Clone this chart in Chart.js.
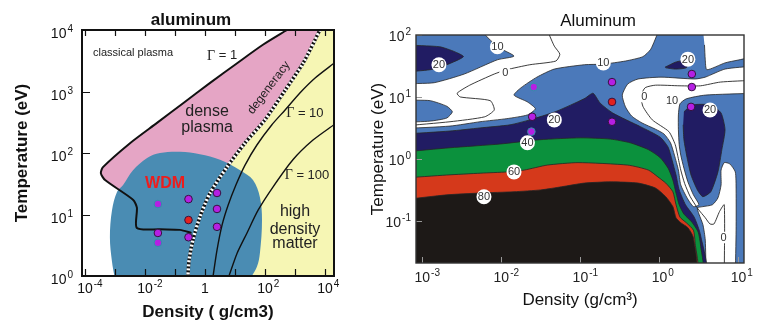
<!DOCTYPE html>
<html lang="en">
<head>
<meta charset="utf-8">
<title>Aluminum WDM</title>
<script src="https://cdn.jsdelivr.net/npm/chart.js@4.4.1/dist/chart.umd.min.js"></script>
<style>
  html, body { margin: 0; padding: 0; background: #fff; }
  #quadro { position: relative; width: 759px; height: 324px; overflow: hidden; }
  #quadro canvas { position: absolute; left: 0; top: 0; }
</style>
</head>
<body>
<div id="quadro">
  <canvas id="chartFases" width="759" height="324"></canvas>
  <canvas id="chartContorno" width="759" height="324"></canvas>
</div>
<script>
// ====== DADOS: painel esquerdo (x = log10 densidade g/cm3, y = log10 T eV) ======
const gamma1 = [[2.73,4.0],[1.93,3.76],[1.07,3.46],[0.17,3.14],[-0.73,2.81],[-1.6,2.49],[-2.5,2.16],
  [-3.4,1.77],[-3.47,1.67],[-3.33,1.56],[-2.4,1.24],[-2.27,1.11],[-2.27,0.78],[-1.5,0.76],[-0.83,0.75],[-0.45,0.70]];
const degeneracy = [[3.83,4.0],[3.27,3.46],[2.67,3.02],[2.0,2.54],[1.33,2.16],[0.73,1.77],[0.17,1.35],
  [-0.17,0.96],[-0.4,0.59],[-0.53,0.26],[-0.57,0]];
const gamma10 = [[4.3,3.46],[3.67,3.22],[3.17,2.98],[2.67,2.70],[2.23,2.46],[1.73,2.13],[1.33,1.80],
  [1.03,1.48],[0.77,1.15],[0.57,0.83],[0.4,0.42],[0.27,0]];
const gamma100 = [[4.3,2.46],[3.6,2.21],[2.93,1.89],[2.27,1.45],[1.77,1.07],[1.4,0.70],[1.07,0.37],[0.8,0]];
const wdmBlob = [[-3.0,-0.05],[-3.1,0.23],[-3.17,0.63],[-3.1,1.07],[-2.93,1.37],[-2.73,1.48],[-2.4,1.72],
  [-1.93,1.92],[-1.5,2.0],[-0.83,2.02],[-0.17,1.98],[0.5,1.89],[1.17,1.72],[1.6,1.56],[1.83,1.28],
  [1.9,0.91],[1.83,0.37],[1.73,0.15],[1.5,-0.05]];
const faseX = [-1.57, -0.55, 0.40, 0.40, 0.40, -1.57, -0.55, -1.57, -0.55];
const faseY = [1.17, 1.25, 1.35, 1.09, 0.80, 0.70, 0.63, 0.54, 0.91];
const faseTipo = ['gas', 'pt', 'pt', 'pt', 'pt', 'pt', 'pt', 'gas', 'ref'];
const faseNomes = ['classical plasma', 'Γ = 1', 'dense', 'plasma', 'degeneracy', 'Γ = 10', 'Γ = 100',
  'high', 'density', 'matter', 'WDM'];
const faseNomesEm = [[-2.4,3.63],[0.57,3.58],[0.07,2.67],[0.07,2.41],[2.13,3.06],[3.33,2.65],[3.4,1.64],
  [3.0,1.04],[3.0,0.76],[3.0,0.52],[-1.33,1.51]];

// ====== DADOS: painel direito, contornos (x = log10 densidade, y = log10 T) ======
const nivel10Base = [[-3.3,-1.9],[1.2,-1.9],[1.2,2.1],[-3.3,2.1]];
const brancoMeio = [[-2.28,2.1],[-2.05,1.81],[-1.84,1.66],[-2.05,1.60],[-2.47,1.37],[-2.85,1.23],[-3.25,1.19],
  [-3.25,0.97],[-2.90,0.94],[-2.69,0.85],[-2.62,0.76],[-2.69,0.66],[-2.90,0.61],[-3.25,0.58],
  [-3.25,0.50],[-2.65,0.53],[-2.27,0.60],[-1.93,0.65],[-1.67,0.71],[-1.57,0.81],[-1.67,0.92],
  [-1.84,1.03],[-1.75,1.15],[-1.55,1.32],[-1.33,1.45],[-0.95,1.52],[-0.71,1.53],[-0.43,1.58],
  [-0.21,1.65],[-0.11,1.77],[0.0,2.1]];
const brancoTopoDir = [[0.55,2.1],[1.2,2.1],[1.2,1.68],[0.83,1.55],[0.60,1.44],[0.58,1.60],[0.57,1.84]];
const brancoLingua = [[1.2,1.5],[0.83,1.45],[0.58,1.32],[0.45,1.29],[0.02,1.32],[-0.27,1.29],[-0.40,1.21],
  [-0.47,1.03],[-0.43,0.84],[-0.35,0.69],[-0.22,0.58],[-0.05,0.48],[0.06,0.40],[0.14,0.26],[0.19,0.06],
  [0.24,-0.18],[0.27,-0.42],[0.35,-0.63],[0.43,-0.77],[0.50,-0.74],[0.43,-0.58],[0.36,-0.37],[0.31,-0.15],
  [0.27,0.06],[0.25,0.23],[0.24,0.47],[0.24,0.71],[0.26,0.89],[0.34,0.97],[0.58,1.03],[1.2,1.06]];
const brancoBaixoDir = [[0.59,-1.9],[0.58,-1.31],[0.55,-1.06],[0.50,-0.89],[0.48,-0.79],[0.55,-0.77],
  [0.67,-0.74],[0.74,-0.63],[0.78,-0.42],[0.78,-0.18],[0.82,-0.06],[0.89,-0.08],[0.96,-0.21],[0.97,-0.5],
  [0.97,-1.15],[0.96,-1.9]];
const nivel20TopoEsq = [[-3.25,1.84],[-2.78,1.81],[-2.59,1.73],[-2.48,1.65],[-2.69,1.52],[-2.90,1.44],[-3.25,1.40]];
const nivel20TopoDir = [[0.07,1.48],[0.20,1.56],[0.27,1.58],[0.36,1.55],[0.34,1.47],[0.20,1.45],[0.08,1.47]];
const nivel20Dir = [[0.31,0.76],[0.41,0.87],[0.65,0.87],[0.78,0.74],[0.83,0.47],[0.79,0.15],[0.74,-0.21],
  [0.65,-0.53],[0.55,-0.61],[0.48,-0.5],[0.40,-0.26],[0.35,0.02],[0.31,0.31],[0.30,0.55]];
const nivel20 = [[-3.25,0.40],[-2.65,0.45],[-2.27,0.50],[-1.89,0.55],[-1.64,0.63],[-1.32,0.76],[-1.07,0.90],
  [-0.94,0.98],[-0.84,1.06],[-0.75,0.90],[-0.59,0.74],[-0.24,0.52],[0.01,0.35],[0.11,0.19],[0.16,-0.02],
  [0.21,-0.26],[0.25,-0.5],[0.33,-0.74],[0.44,-0.94],[0.52,-1.23],[0.57,-1.9],[-3.25,-1.9]];
const nivel40 = [[-3.25,0.11],[-2.65,0.18],[-2.02,0.24],[-1.51,0.31],[-1.0,0.34],[-0.62,0.32],[-0.37,0.26],
  [-0.14,0.15],[0.01,0.02],[0.11,-0.15],[0.17,-0.34],[0.21,-0.55],[0.25,-0.74],[0.31,-0.89],[0.41,-1.02],
  [0.49,-1.18],[0.52,-1.39],[0.53,-1.9],[-3.25,-1.9]];
const nivel60 = [[-3.25,-0.31],[-2.69,-0.26],[-2.26,-0.23],[-1.93,-0.21],[-1.71,-0.18],[-1.42,-0.10],
  [-1.03,-0.06],[-0.40,-0.10],[-0.14,-0.18],[-0.02,-0.29],[0.08,-0.39],[0.17,-0.53],[0.21,-0.74],
  [0.26,-0.94],[0.34,-1.03],[0.43,-1.15],[0.45,-1.34],[0.46,-1.9],[-3.25,-1.9]];
const nivel80 = [[-3.25,-0.66],[-2.69,-0.58],[-2.26,-0.55],[-1.84,-0.53],[-1.50,-0.5],[-1.24,-0.45],
  [-0.95,-0.39],[-0.61,-0.37],[-0.27,-0.39],[-0.05,-0.47],[0.08,-0.61],[0.17,-0.77],[0.21,-0.95],
  [0.27,-1.03],[0.36,-1.11],[0.43,-1.27],[0.44,-1.9],[-3.25,-1.9]];
const zeroA = [[-1.41,2.05],[-1.33,1.82],[-1.26,1.69],[-1.31,1.58],[-1.64,1.52],[-1.93,1.44],[-2.09,1.37],
  [-2.40,1.19],[-2.56,1.06],[-2.52,1.0],[-2.14,0.94],[-2.09,0.79],[-2.21,0.68],[-2.65,0.60],[-3.25,0.53]];
const zeroB = [[1.2,1.27],[0.77,1.24],[0.52,1.18],[0.26,1.18],[-0.05,1.19],[-0.18,1.15],[-0.23,1.03],
  [-0.21,0.85],[-0.09,0.63],[0.12,0.44],[0.20,0.23],[0.23,0.06],[0.27,-0.18],[0.32,-0.40],[0.39,-0.61],
  [0.49,-0.81],[0.58,-0.95],[0.64,-1.05],[0.69,-1.05],[0.76,-0.85],[0.82,-0.74],[0.82,-1.9]];
const contX = [-1.59, -1.61, -1.62, -0.60, -0.60, 0.41, 0.41, 0.40, -0.60];
const contY = [1.16, 0.68, 0.44, 1.24, 0.60, 1.37, 1.16, 0.84, 0.92];
const contTipo = ['gas', 'pt', 'gas', 'pt', 'pt', 'pt', 'pt', 'pt', 'ref'];
const nivelTexto = ['10', '20', '0', '10', '20', '0', '10', '20', '20', '40', '60', '80', '0'];
const nivelEm = [[-2.05,1.81],[-2.79,1.52],[-1.95,1.40],[-0.71,1.55],[0.36,1.61],[-0.19,1.0],[0.16,0.94],
  [0.64,0.79],[-1.33,0.63],[-1.67,0.26],[-1.84,-0.21],[-2.22,-0.61],[0.81,-1.27]];

// ====== HELPERS ======
const FONT = '"Liberation Sans", Arial, Helvetica, sans-serif';
const SERIF = '"Liberation Serif", "Times New Roman", serif';
Chart.defaults.font.family = FONT;
Chart.defaults.color = '#111';

const pts = (arr) => arr.map(([x, y]) => ({ x, y }));

function area(arr, color, extra) {
  return Object.assign({
    data: pts(arr), backgroundColor: color, borderColor: color, borderWidth: 0,
    fill: 'shape', pointRadius: 0, tension: 0, clip: 0
  }, extra || {});
}

function curve(arr, color, width, extra) {
  return Object.assign({
    data: pts(arr), borderColor: color, borderWidth: width, backgroundColor: 'transparent',
    fill: false, pointRadius: 0, tension: 0.25
  }, extra || {});
}

function markers(xs, ys, kinds) {
  return {
    data: xs.map((x, i) => ({ x, y: ys[i] })), showLine: false, fill: false,
    pointRadius: 3.8, pointBorderWidth: 1,
    pointBackgroundColor: kinds.map((k) => (k === 'ref' ? '#e3211d' : '#b51fe3')),
    pointBorderColor: kinds.map((k) => (k === 'gas' ? '#2f93a8' : '#35123f'))
  };
}

// primeiro da lista fica embaixo
function stack(list) {
  return list.map((d, i) => Object.assign(d, { order: list.length - i }));
}

function drawPow(ctx, e, x, y, align, st, plainOne) {
  const n = Math.round(e);
  ctx.textAlign = 'left';
  ctx.textBaseline = 'alphabetic';
  ctx.font = st.base;
  if (plainOne && n === 0) {
    const w = ctx.measureText('1').width;
    ctx.fillText('1', align === 'right' ? x - w : x - w / 2, y);
    return;
  }
  const wb = ctx.measureText('10').width;
  const txt = String(n);
  ctx.font = st.exp;
  const we = ctx.measureText(txt).width;
  const x0 = align === 'right' ? x - wb - we - 1 : x - wb / 2;
  ctx.font = st.base;
  ctx.fillText('10', x0, y);
  ctx.font = st.exp;
  ctx.fillText(txt, x0 + wb + 1, y - st.rise);
}

function moldura(st, extra) {
  return {
    id: 'moldura',
    afterDatasetsDraw(chart) {
      const { ctx, chartArea: a, scales: { x, y } } = chart;
      ctx.save();
      ctx.strokeStyle = st.tickColor;
      ctx.lineWidth = st.tickWidth;
      ctx.beginPath();
      x.ticks.forEach((t) => {
        const px = Math.round(x.getPixelForValue(t.value)) + 0.5;
        ctx.moveTo(px, a.bottom);
        ctx.lineTo(px, a.bottom - st.tickBottom);
        if (st.tickTop) {
          ctx.moveTo(px, a.top);
          ctx.lineTo(px, a.top + st.tickTop);
        }
      });
      y.ticks.forEach((t) => {
        const py = Math.round(y.getPixelForValue(t.value)) + 0.5;
        ctx.moveTo(a.left, py);
        ctx.lineTo(a.left + st.tickLeft, py);
      });
      ctx.stroke();

      ctx.strokeStyle = st.frameColor;
      ctx.lineWidth = st.frameWidth;
      ctx.strokeRect(a.left, a.top, a.right - a.left, a.bottom - a.top);

      ctx.fillStyle = st.labelColor;
      x.ticks.forEach((t) => {
        if (Math.round(t.value) % st.xEvery !== 0) return;
        drawPow(ctx, t.value, x.getPixelForValue(t.value), a.bottom + st.xDrop, 'center', st, st.plainOne);
      });
      y.ticks.forEach((t) => {
        drawPow(ctx, t.value, st.yRight, y.getPixelForValue(t.value) + st.yDrop, 'right', st, false);
      });

      ctx.font = st.titleFont;
      ctx.fillStyle = '#111';
      ctx.textAlign = 'center';
      ctx.textBaseline = 'middle';
      ctx.fillText(st.title, st.titleX, st.titleY);

      if (extra) extra(ctx, x, y);
      ctx.restore();
    }
  };
}

function eixos(xr, yr, xt, yt, font, xPad, yPad, xH, yW) {
  const base = {
    type: 'linear',
    grid: { display: false },
    border: { display: false }
  };
  return {
    x: Object.assign({}, base, {
      min: xr[0], max: xr[1],
      ticks: { stepSize: 1, includeBounds: false, display: false },
      title: { display: true, text: xt, font, color: '#111', padding: { top: 0, bottom: xPad } },
      afterFit: (s) => { s.height = xH; }
    }),
    y: Object.assign({}, base, {
      min: yr[0], max: yr[1],
      ticks: { stepSize: 1, includeBounds: false, display: false },
      title: { display: true, text: yt, font, color: '#111', padding: { top: yPad, bottom: 0 } },
      afterFit: (s) => { s.width = yW; }
    })
  };
}

const comum = {
  responsive: false,
  animation: false,
  events: [],
  plugins: { legend: { display: false }, tooltip: { enabled: false } }
};

// ====== GRÁFICO 1: diagrama de fases ======
const faseEstilo = [
  { size: 11, bold: false, color: '#222', rot: 0 },
  { size: 13, bold: false, color: '#222', rot: 0 },
  { size: 16, bold: false, color: '#222', rot: 0 },
  { size: 16, bold: false, color: '#222', rot: 0 },
  { size: 12, bold: false, color: '#222', rot: -53 },
  { size: 13, bold: false, color: '#222', rot: 0 },
  { size: 13, bold: false, color: '#222', rot: 0 },
  { size: 16, bold: false, color: '#222', rot: 0 },
  { size: 16, bold: false, color: '#222', rot: 0 },
  { size: 16, bold: false, color: '#222', rot: 0 },
  { size: 16, bold: true, color: '#ee1c1c', rot: 0 }
];

function faseTextos(ctx, x, y) {
  faseNomes.forEach((t, i) => {
    const s = faseEstilo[i];
    const sans = (s.bold ? 'bold ' : '') + s.size + 'px ' + FONT;
    ctx.save();
    ctx.translate(x.getPixelForValue(faseNomesEm[i][0]), y.getPixelForValue(faseNomesEm[i][1]));
    ctx.rotate((s.rot * Math.PI) / 180);
    ctx.fillStyle = s.color;
    ctx.textBaseline = 'middle';
    if (t.startsWith('Γ')) {
      // Γ em serifa, resto em sans
      const g = (s.size + 1) + 'px ' + SERIF;
      const rest = t.slice(1);
      ctx.font = g;
      const wg = ctx.measureText('Γ').width;
      ctx.font = sans;
      const wr = ctx.measureText(rest).width;
      const x0 = -(wg + wr) / 2;
      ctx.textAlign = 'left';
      ctx.font = g;
      ctx.fillText('Γ', x0, 0);
      ctx.font = sans;
      ctx.fillText(rest, x0 + wg, 0);
    } else {
      ctx.font = sans;
      ctx.textAlign = 'center';
      ctx.fillText(t, 0, 0);
    }
    ctx.restore();
  });
}

const densePlasma = gamma1.concat([[-0.33, 0.70]], degeneracy.slice(0, 8).reverse());
const highDensity = degeneracy.concat([[4.5, -0.2], [4.5, 4.2], [3.9, 4.2]]);

new Chart(document.getElementById('chartFases'), {
  type: 'line',
  data: {
    datasets: stack([
      area(highDensity, '#f6f6b4'),
      area(densePlasma, '#e5a5c5', { tension: 0.25 }),
      area(wdmBlob, '#4a8cb3', { tension: 0.35 }),
      curve(gamma10, '#111', 1.4),
      curve(gamma100, '#111', 1.4),
      curve(degeneracy, '#111', 3.4),
      curve(degeneracy, '#fff', 3.4, { borderDash: [2, 2] }),
      curve(gamma1, '#111', 2),
      markers(faseX, faseY, faseTipo)
    ])
  },
  options: Object.assign({}, comum, {
    layout: { padding: { left: 0, top: 30, right: 425, bottom: 0 } },
    scales: eixos([-4.1, 4.3], [0, 4], 'Density ( g/cm3)', 'Temperature (eV)',
      { size: 17, weight: 'bold' }, 1, 12, 48, 82)
  }),
  plugins: [moldura({
    tickColor: '#111', tickWidth: 1.2, tickBottom: 7, tickTop: 6, tickLeft: 8,
    frameColor: '#111', frameWidth: 2,
    base: '14px ' + FONT, exp: '10px ' + FONT, rise: 6, labelColor: '#111',
    xEvery: 2, plainOne: true, xDrop: 17, yRight: 73, yDrop: 8,
    title: 'aluminum', titleFont: 'bold 17px ' + FONT, titleX: 191, titleY: 20
  }, faseTextos)]
});

// ====== GRÁFICO 2: contornos ======
const AZUL = '#4b79ba';
const NAVY = '#211c63';
const LINHA = '#262626';
const borda = { borderColor: LINHA, borderWidth: 0.8, tension: 0.2 };

function bolhas(ctx, x, y) {
  nivelTexto.forEach((t, i) => {
    const px = x.getPixelForValue(nivelEm[i][0]);
    const py = y.getPixelForValue(nivelEm[i][1]);
    ctx.fillStyle = '#fff';
    ctx.beginPath();
    ctx.arc(px, py, t.length > 1 ? 7.5 : 6, 0, Math.PI * 2);
    ctx.fill();
    ctx.fillStyle = '#333';
    ctx.font = '11px ' + FONT;
    ctx.textAlign = 'center';
    ctx.textBaseline = 'middle';
    ctx.fillText(t, px, py + 0.5);
  });
}

new Chart(document.getElementById('chartContorno'), {
  type: 'line',
  data: {
    datasets: stack([
      area(nivel10Base, AZUL),
      area(brancoMeio, '#fff', borda),
      area(brancoTopoDir, '#fff', borda),
      area(brancoLingua, '#fff', borda),
      area(brancoBaixoDir, '#fff', borda),
      area(nivel20TopoEsq, NAVY, borda),
      area(nivel20TopoDir, NAVY, borda),
      area(nivel20Dir, NAVY, borda),
      area(nivel20, NAVY, borda),
      area(nivel40, '#0b913d', borda),
      area(nivel60, '#d5391b', borda),
      area(nivel80, '#1d1917', borda),
      curve(zeroA, LINHA, 0.9, { tension: 0.2 }),
      curve(zeroB, LINHA, 0.9, { tension: 0.2 }),
      markers(contX, contY, contTipo)
    ])
  },
  options: Object.assign({}, comum, {
    layout: { padding: { left: 360, top: 35, right: 15, bottom: 0 } },
    scales: eixos([-3.08, 1.07], [-1.68, 2.0], 'Density (g/cm³)', 'Temperature (eV)',
      { size: 17 }, 13, 8, 61, 56)
  }),
  plugins: [moldura({
    tickColor: '#999', tickWidth: 1, tickBottom: 6, tickTop: 0, tickLeft: 6,
    frameColor: '#333', frameWidth: 1.4,
    base: '14px ' + FONT, exp: '10px ' + FONT, rise: 6, labelColor: '#222',
    xEvery: 1, plainOne: false, xDrop: 19, yRight: 411, yDrop: 6,
    title: 'Aluminum', titleFont: '17px ' + FONT, titleX: 598, titleY: 21
  }, bolhas)]
});
</script>
</body>
</html>
